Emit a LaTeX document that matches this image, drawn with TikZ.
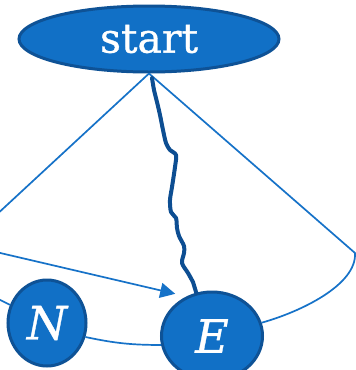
\documentclass[tikz,border=0pt]{standalone}
\usepackage{fontspec}
\setmainfont{DejaVu Serif}
\usetikzlibrary{shapes.geometric,arrows.meta}
\definecolor{nodefill}{RGB}{17,112,198}
\definecolor{nodeborder}{RGB}{14,82,150}
\definecolor{thinline}{RGB}{22,114,200}
\definecolor{wavyline}{RGB}{13,78,146}
\tikzset{
  blob/.style={ellipse, draw=nodeborder, fill=nodefill, line width=3pt, text=white, inner sep=0pt},
  thin/.style={draw=thinline, line width=1.7pt},
  wavy/.style={draw=wavyline, line width=4pt, line cap=round, line join=round},
  arrowtip/.style={-{Triangle[length=15pt,width=15pt]}}
}
\begin{document}
\begin{tikzpicture}[x=1pt,y=-1pt]
\clip (0,0) rectangle (356,370);
\fill[white] (0,0) rectangle (356,370);
% nodes
\node[blob, minimum width=260pt, minimum height=66pt, font=\fontsize{41}{41}\selectfont\addfontfeature{FakeBold=0.8}] (start) at (149,39) {\raisebox{-5pt}{start}};
\node[blob, minimum width=78pt, minimum height=86pt, font=\fontsize{46}{46}\selectfont\itshape\addfontfeature{FakeBold=0.8}] (N) at (47,323) {N};
\node[blob, minimum width=101pt, minimum height=88pt, font=\fontsize{46}{46}\selectfont\itshape\addfontfeature{FakeBold=0.8}] (E) at (212,336) {E};
% free ends
\coordinate (leftout) at (-20,230);
\coordinate (arrowin) at (-10,250.6);
\coordinate (nin) at (-10,295);
\coordinate (rcorner) at (355,253);
% connectors
\draw[thin] (start.south) -- (leftout);
\draw[thin] (start.south) -- (rcorner) .. controls (357,285) and (300,312) .. (E.15);
\draw[thin, arrowtip] (arrowin) -- ([yshift=10pt]E.north west);
\draw[thin] (nin) -- (N);
\draw[thin] (N.-20) to[bend right=6] (E.190);
\draw[wavy] plot[smooth, tension=0.5] coordinates {(152,78) (154,90) (157,102) (160,115) (163,130) (166,143) (170,150) (176,155) (175,167) (172,187) (170,200) (171,212) (176,218) (177,228) (179,236) (184,246) (184,253) (182,263) (188,273) (193,282)} -- (E.110);
\end{tikzpicture}
\end{document}
